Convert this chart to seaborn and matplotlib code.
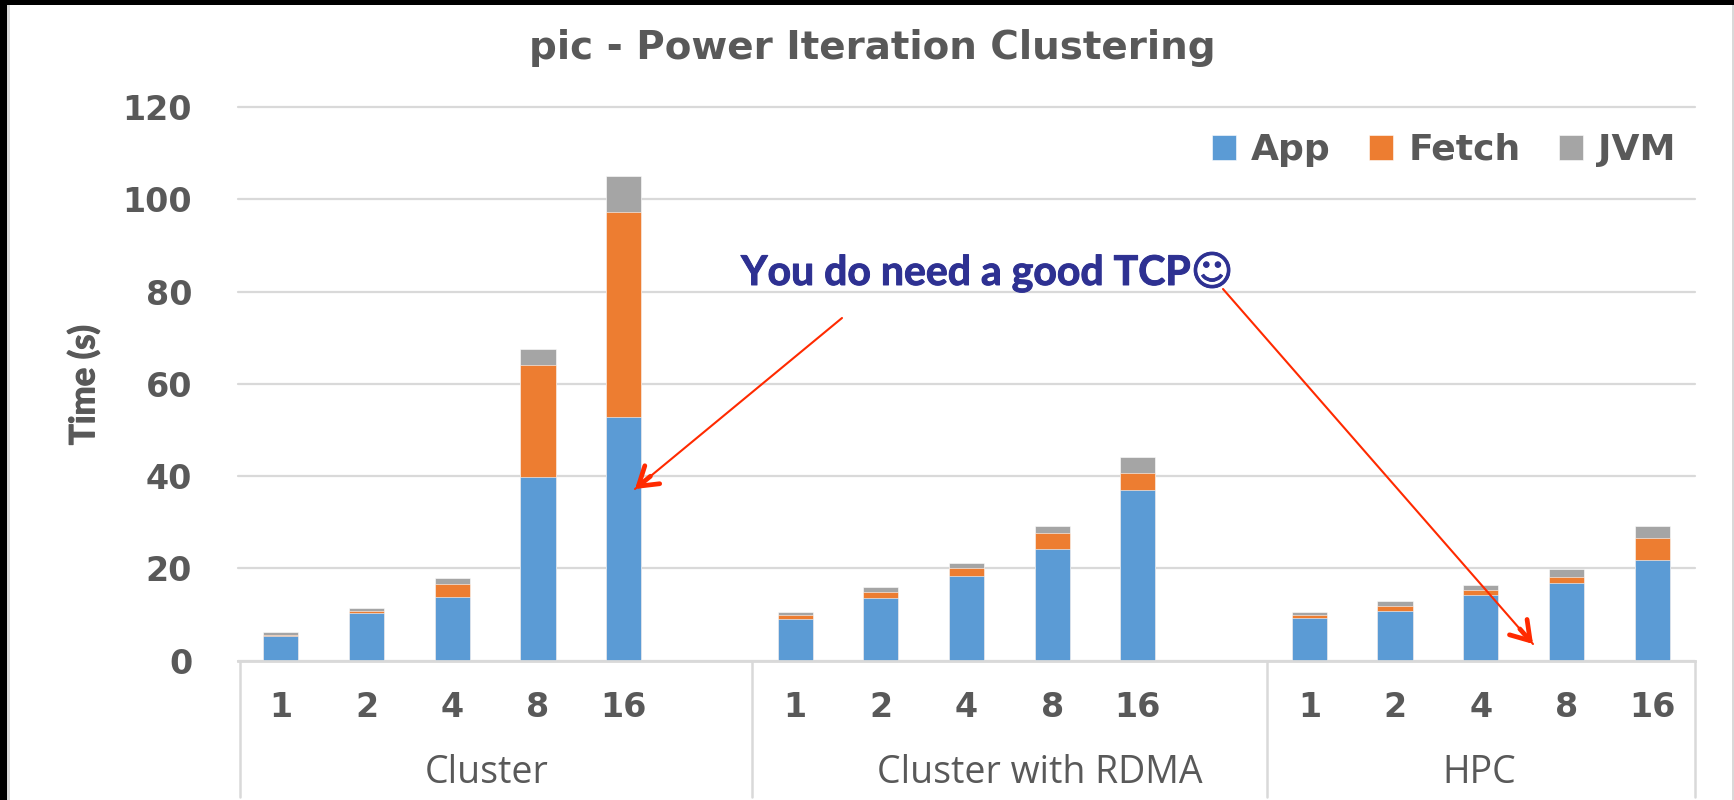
import matplotlib
matplotlib.use("Agg")
import matplotlib.pyplot as plt
import matplotlib.patheffects as pe
import seaborn as sns
import numpy as np, pandas as pd
from matplotlib.patches import Rectangle

# ---------- data ----------
groups = ["Cluster", "Cluster with RDMA", "HPC"]
nodes = ["1", "2", "4", "8", "16"]
app = [5.3, 10.3, 13.7, 39.7, 52.8,
       9.0, 13.5, 18.3, 24.2, 37.0,
       9.3, 10.8, 14.2, 16.7, 21.7]
fetch = [0.3, 0.4, 2.9, 24.3, 44.4,
         0.9, 1.3, 1.8, 3.4, 3.7,
         0.55, 1.1, 1.05, 1.5, 4.9]
jvm = [0.5, 0.7, 1.2, 3.6, 7.8,
       0.6, 1.1, 1.1, 1.5, 3.5,
       0.65, 1.0, 1.05, 1.7, 2.5]
yticks = [0, 20, 40, 60, 80, 100, 120]

W, H = 1734, 800
GREY = "#595959"; LINE = "#D9D9D9"; RED = "#FF2A00"; NAVY = "#2E3192"
BLUE = "#5B9BD5"; ORANGE = "#ED7D31"; JVM_C = "#A5A5A5"

def px(x, y):  # picture pixels -> figure fraction
    return x / W, 1 - y / H

# one slot per bar, plus an empty slot closing the first two groups
slots, slot_labels = [], []
for g in groups:
    for n in nodes:
        slots.append(f"{g} {n}"); slot_labels.append(n)
    if g != groups[-1]:
        slots.append(f"{g} gap"); slot_labels.append("")
bars = [f"{g} {n}" for g in groups for n in nodes]
df = pd.DataFrame({"slot": bars, "app": app, "fetch": fetch, "jvm": jvm})
df["app_fetch"] = df["app"] + df["fetch"]
df["total"] = df["app_fetch"] + df["jvm"]

sns.set_theme(style="white")
plt.rcParams["font.family"] = ["DejaVu Sans"]
fig = plt.figure(figsize=(W / 100, H / 100), dpi=100, facecolor="white")
ax = fig.add_axes([238 / W, 1 - 660.5 / H, 1457 / W, (660.5 - 107) / H])

# stacked: tallest first, the shorter segments painted over it
for col, color, lab in [("total", JVM_C, "JVM"), ("app_fetch", ORANGE, "Fetch"), ("app", BLUE, "App")]:
    sns.barplot(data=df, x="slot", y=col, order=slots, color=color, saturation=1,
                width=0.41, errorbar=None, label=lab, edgecolor="white", linewidth=0.4, ax=ax)

ax.set_xlim(-0.5, len(slots) - 0.5)
ax.set_ylim(0, 120)
ax.set_xlabel(""); ax.set_ylabel("")
ax.set_yticks(yticks)
ax.set_xticks(range(len(slots)))
ax.set_xticklabels(slot_labels)
ax.grid(axis="y", color=LINE, lw=1.6)
for gl in ax.get_ygridlines():
    gl.set_clip_on(False)
ax.set_axisbelow(True)
sns.despine(ax=ax, left=True, top=True, right=True)
ax.spines["bottom"].set_color(LINE); ax.spines["bottom"].set_linewidth(2)
ax.tick_params(axis="both", length=0, labelcolor=GREY, labelsize=24)
ax.tick_params(axis="y", pad=33)
ax.tick_params(axis="x", pad=22)
for t in ax.get_xticklabels() + ax.get_yticklabels():
    t.set_fontweight("bold")

# group separators below the axis
for x in [240, 752, 1267, 1695]:
    fig.add_artist(plt.Line2D([x / W, x / W], [1 - 661 / H, 1 - 797 / H], color=LINE, lw=1.8))
for g, x in zip(groups, [487, 1040, 1479]):
    fig.text(*px(x, 773), g, ha="center", va="center", color=GREY, fontsize=27,
             family=["Open Sans", "DejaVu Sans"])

fig.text(*px(872, 48), "pic - Power Iteration Clustering", ha="center", va="center",
         color=GREY, fontsize=28, fontweight="bold")
fig.text(*px(84, 385), "Time (s)", ha="center", va="center", rotation=90, color=GREY,
         fontsize=25, fontweight="bold", family=["Lato", "DejaVu Sans"],
         path_effects=[pe.withStroke(linewidth=0.9, foreground=GREY)])

h, l = ax.get_legend_handles_labels()
order = [l.index(k) for k in ["App", "Fetch", "JVM"]]
leg = ax.legend([h[i] for i in order], [l[i] for i in order], ncols=3, frameon=False,
                loc="center right", bbox_to_anchor=px(1676, 150), bbox_transform=fig.transFigure,
                fontsize=26, handlelength=0.68, handleheight=0.68, handletextpad=0.42,
                columnspacing=1.05, labelcolor=GREY, borderpad=0, borderaxespad=0)
for t in leg.get_texts():
    t.set_fontweight("bold")

fig.text(*px(741, 285), "You do need a good TCP\u263A", ha="left", va="baseline", color=NAVY,
         fontsize=29.5, fontweight="bold", family=["Lato", "DejaVu Sans"],
         path_effects=[pe.withStroke(linewidth=0.7, foreground=NAVY)])

# arrows: thin shaft, heavier open head
for start, tip in [((842, 318), (635, 489)), ((1223, 289), (1533, 644))]:
    s, e = np.array(start, float), np.array(tip, float)
    ax.annotate("", xy=px(*e), xytext=px(*s), xycoords="figure fraction", textcoords="figure fraction",
                arrowprops=dict(arrowstyle="-", color=RED, lw=1.5, shrinkA=0, shrinkB=0))
    d = (e - s) / np.linalg.norm(e - s)
    ax.annotate("", xy=px(*e), xytext=px(*(e - d * 20)), xycoords="figure fraction", textcoords="figure fraction",
                arrowprops=dict(arrowstyle="->,head_length=0.65,head_width=0.42", color=RED, lw=3.4,
                                shrinkA=0, shrinkB=0, mutation_scale=20))

# screenshot frame
fig.add_artist(Rectangle((0, 1 - 5 / H), 1, 5 / H, transform=fig.transFigure, color="black", lw=0))
fig.add_artist(Rectangle((0, 0), 7 / W, 1, transform=fig.transFigure, color="black", lw=0))
fig.add_artist(Rectangle((7 / W, 0), 3.5 / W, 1 - 5 / H, transform=fig.transFigure, color=LINE, lw=0))
fig.add_artist(Rectangle((1732 / W, 0), 2 / W, 1 - 5 / H, transform=fig.transFigure, color=LINE, lw=0))

fig.savefig("out.png", dpi=100)
